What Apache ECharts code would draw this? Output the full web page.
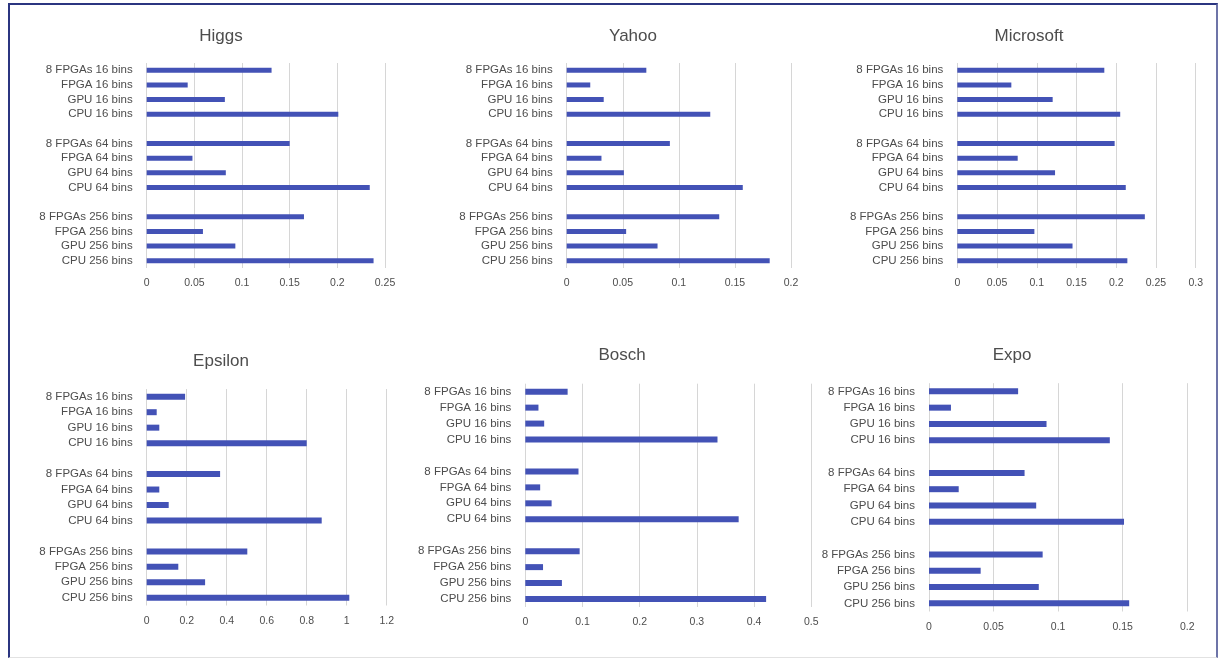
<!DOCTYPE html>
<html>
<head>
<meta charset="utf-8">
<title>Histogram build time</title>
<script src="https://cdn.jsdelivr.net/npm/echarts@6/dist/echarts.min.js"></script>
<style>
html, body { margin: 0; padding: 0; background: #fff; }
#main { position: absolute; left: 0; top: 0; width: 1219px; height: 659px; }
#frame {
  position: absolute; left: 8px; top: 3px; width: 1210px; height: 655px; box-sizing: border-box;
  border-left: 2px solid #2b3580; border-top: 2px solid #2b3580;
  border-right: 2px solid #6d74a8; border-bottom: 1px solid #e2e2e2;
  pointer-events: none;
}
</style>
</head>
<body>
<div id="main"></div>
<div id="frame"></div>
<script>
// row labels, top to bottom (gaps are added between the bin groups)
var rowLabels = [
  '8 FPGAs 16 bins', 'FPGA 16 bins', 'GPU 16 bins', 'CPU 16 bins',
  '8 FPGAs 64 bins', 'FPGA 64 bins', 'GPU 64 bins', 'CPU 64 bins',
  '8 FPGAs 256 bins', 'FPGA 256 bins', 'GPU 256 bins', 'CPU 256 bins'
];

var higgs     = [0.131, 0.043, 0.082, 0.201, 0.150, 0.048, 0.083, 0.234, 0.165, 0.059, 0.093, 0.238];
var yahoo     = [0.071, 0.021, 0.033, 0.128, 0.092, 0.031, 0.051, 0.157, 0.136, 0.053, 0.081, 0.181];
var microsoft = [0.185, 0.068, 0.120, 0.205, 0.198, 0.076, 0.123, 0.212, 0.236, 0.097, 0.145, 0.214];
var epsilon   = [0.192, 0.050, 0.063, 0.800, 0.367, 0.063, 0.110, 0.875, 0.503, 0.158, 0.292, 1.013];
var bosch     = [0.074, 0.023, 0.033, 0.336, 0.093, 0.026, 0.046, 0.373, 0.095, 0.031, 0.064, 0.421];
var expo      = [0.069, 0.017, 0.091, 0.140, 0.074, 0.023, 0.083, 0.151, 0.088, 0.040, 0.085, 0.155];

var titles    = ['Higgs', 'Yahoo', 'Microsoft', 'Epsilon', 'Bosch', 'Expo'];
var axisMax   = [0.25, 0.2, 0.3, 1.2, 0.5, 0.2];
var axisStep  = [0.05, 0.05, 0.05, 0.2, 0.1, 0.05];

// put an empty row after each group of four
function withGaps(arr, a, b) {
  return arr.slice(0, 4).concat([a], arr.slice(4, 8), [b], arr.slice(8));
}
var categories = withGaps(rowLabels, ' ', '  ');
var allValues = [higgs, yahoo, microsoft, epsilon, bosch, expo];

// plot areas (left, top, width, height) and title centres
var boxes = [
  [146.7, 63, 238.3, 205],
  [566.7, 63, 224.3, 205],
  [957.3, 63, 238.4, 205],
  [146.7, 389, 240, 216.5],
  [525.3, 383.7, 286, 223.3],
  [929, 383.2, 258.3, 228.3]
];
var titlePos = [[221, 37], [633, 37], [1029, 37], [221, 362], [622, 356], [1012, 356]];

var font = "'Liberation Sans', Arial, sans-serif";
var textColor = '#4d4d4d';
var barColor = '#4352b6';

var option = { animation: false, title: [], grid: [], xAxis: [], yAxis: [], series: [] };

for (var i = 0; i < 6; i++) {
  var b = boxes[i];
  option.title.push({
    text: titles[i],
    left: titlePos[i][0],
    top: titlePos[i][1] - 9,
    textAlign: 'center',
    padding: 0,
    textStyle: { fontFamily: font, fontSize: 17, fontWeight: 'normal', color: textColor }
  });
  option.grid.push({ left: b[0], top: b[1], width: b[2], height: b[3] });
  option.xAxis.push({
    type: 'value',
    gridIndex: i,
    min: 0,
    max: axisMax[i],
    interval: axisStep[i],
    axisLine: { show: false },
    axisTick: { show: false },
    splitLine: { show: true, lineStyle: { color: '#d6d6d6', width: 1 } },
    axisLabel: { fontFamily: font, fontSize: 10.5, color: textColor, margin: 10 }
  });
  option.yAxis.push({
    type: 'category',
    gridIndex: i,
    inverse: true,
    data: categories,
    axisLine: { show: false },
    axisTick: { show: false },
    splitLine: { show: false },
    axisLabel: { fontFamily: font, fontSize: 11.5, color: textColor, margin: 14, interval: 0 }
  });
  option.series.push({
    type: 'bar',
    xAxisIndex: i,
    yAxisIndex: i,
    barWidth: i < 3 ? 5 : 6,
    itemStyle: { color: barColor },
    data: withGaps(allValues[i], null, null)
  });
}

var myChart = echarts.init(document.getElementById('main'));
myChart.setOption(option);
window.addEventListener('resize', function () {
  myChart.resize();
});
</script>
</body>
</html>
